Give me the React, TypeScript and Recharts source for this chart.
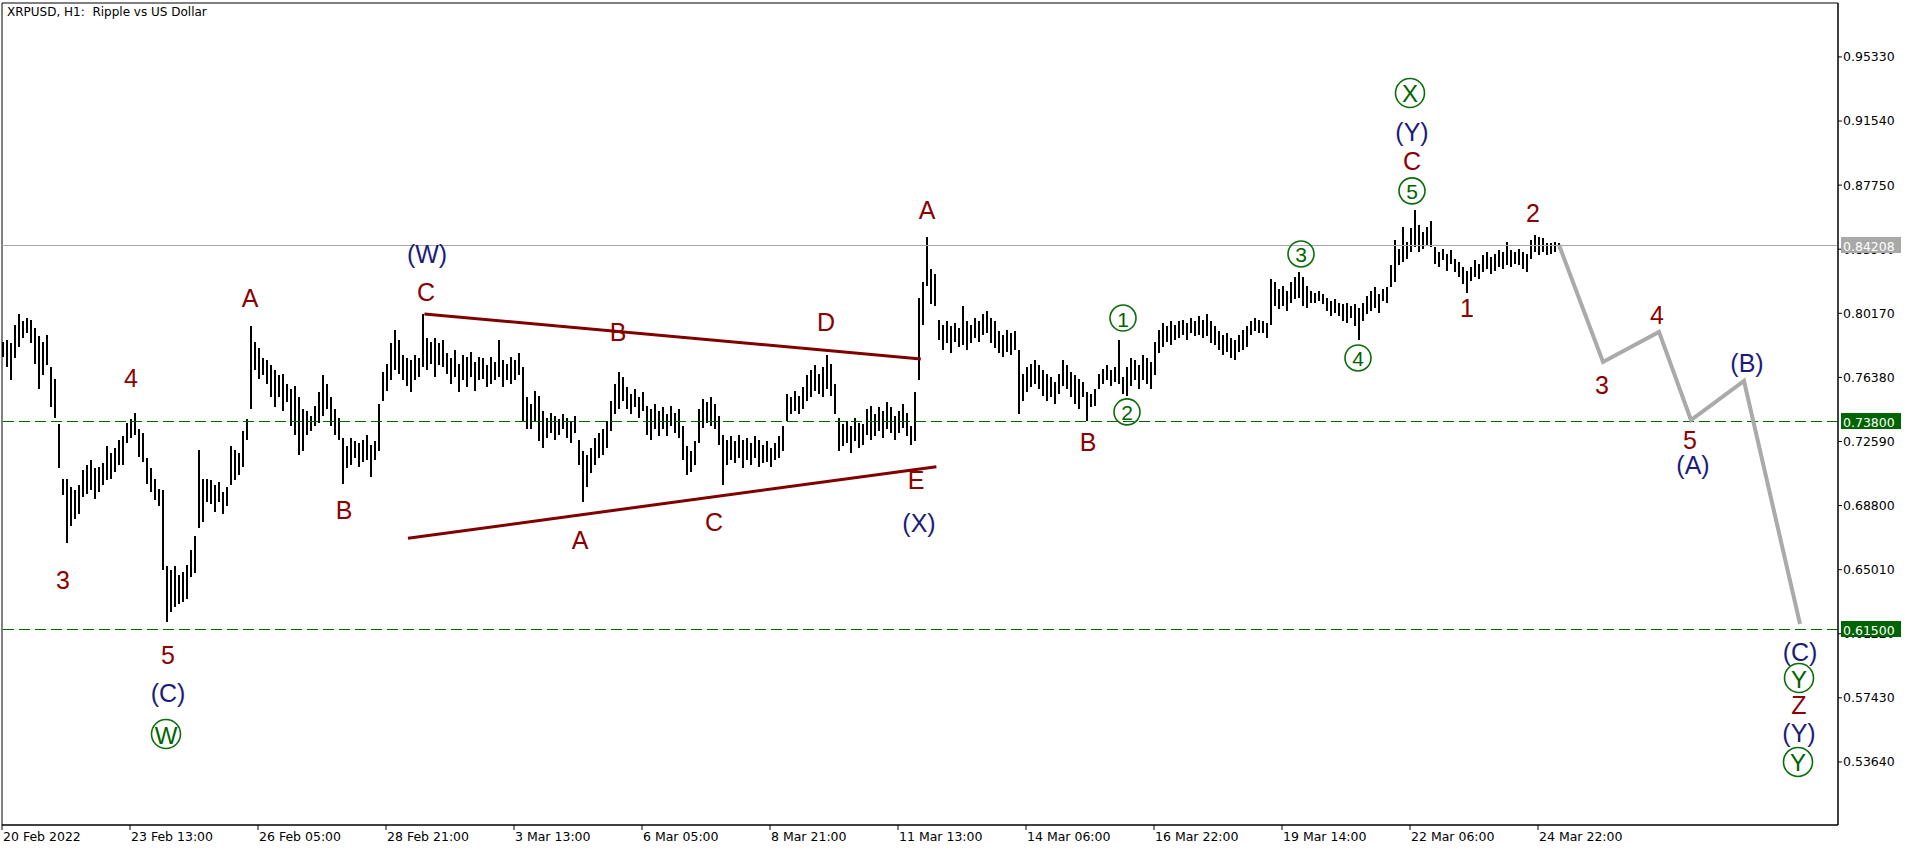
import React from 'react';
import { ComposedChart, Bar, Line, Scatter, XAxis, YAxis, ReferenceLine, ReferenceArea } from 'recharts';

// hourly bars sampled every 2 hours, starting 20 Feb 2022 21:00
const highs = [
  0.785, 0.786, 0.784, 0.795, 0.801, 0.797, 0.799, 0.798, 0.793, 0.788,
  0.785, 0.789, 0.770, 0.763, 0.736, 0.704, 0.704, 0.699, 0.697, 0.700,
  0.709, 0.712, 0.715, 0.710, 0.711, 0.713, 0.723, 0.719, 0.722, 0.727,
  0.729, 0.737, 0.739, 0.743, 0.733, 0.731, 0.716, 0.710, 0.704, 0.698,
  0.697, 0.652, 0.650, 0.652, 0.647, 0.649, 0.653, 0.662, 0.670, 0.721,
  0.704, 0.704, 0.703, 0.700, 0.702, 0.696, 0.699, 0.723, 0.721, 0.719,
  0.732, 0.739, 0.794, 0.785, 0.781, 0.775, 0.774, 0.771, 0.768, 0.765,
  0.766, 0.760, 0.757, 0.759, 0.752, 0.745, 0.744, 0.741, 0.747, 0.755,
  0.765, 0.760, 0.752, 0.745, 0.740, 0.728, 0.723, 0.728, 0.726, 0.725,
  0.727, 0.730, 0.724, 0.726, 0.748, 0.767, 0.772, 0.784, 0.792, 0.786,
  0.777, 0.775, 0.774, 0.777, 0.775, 0.801, 0.787, 0.785, 0.787, 0.784,
  0.786, 0.778, 0.775, 0.780, 0.772, 0.777, 0.776, 0.779, 0.773, 0.776,
  0.775, 0.771, 0.776, 0.773, 0.786, 0.774, 0.772, 0.776, 0.774, 0.778,
  0.770, 0.752, 0.748, 0.756, 0.753, 0.744, 0.740, 0.743, 0.741, 0.739,
  0.742, 0.740, 0.738, 0.741, 0.727, 0.720, 0.718, 0.722, 0.728, 0.731,
  0.733, 0.738, 0.750, 0.760, 0.767, 0.764, 0.758, 0.754, 0.757, 0.752,
  0.755, 0.747, 0.745, 0.748, 0.744, 0.746, 0.742, 0.747, 0.743, 0.745,
  0.735, 0.723, 0.720, 0.726, 0.745, 0.751, 0.749, 0.752, 0.748, 0.741,
  0.730, 0.727, 0.729, 0.726, 0.730, 0.727, 0.728, 0.725, 0.729, 0.727,
  0.724, 0.726, 0.722, 0.725, 0.729, 0.735, 0.754, 0.752, 0.756, 0.753,
  0.758, 0.765, 0.768, 0.771, 0.766, 0.770, 0.777, 0.772, 0.760, 0.740,
  0.736, 0.738, 0.735, 0.740, 0.737, 0.736, 0.745, 0.747, 0.742, 0.746,
  0.744, 0.749, 0.746, 0.741, 0.744, 0.748, 0.743, 0.735, 0.755, 0.811,
  0.820, 0.847, 0.828, 0.825, 0.798, 0.795, 0.797, 0.794, 0.796, 0.793,
  0.806, 0.797, 0.795, 0.799, 0.797, 0.801, 0.803, 0.799, 0.797, 0.791,
  0.789, 0.792, 0.790, 0.791, 0.780, 0.766, 0.770, 0.772, 0.774, 0.771,
  0.768, 0.766, 0.764, 0.761, 0.766, 0.774, 0.771, 0.767, 0.765, 0.763,
  0.761, 0.755, 0.754, 0.757, 0.766, 0.769, 0.771, 0.768, 0.770, 0.786,
  0.764, 0.770, 0.775, 0.774, 0.771, 0.777, 0.775, 0.773, 0.785, 0.792,
  0.796, 0.794, 0.797, 0.795, 0.797, 0.798, 0.796, 0.799, 0.797, 0.800,
  0.798, 0.801, 0.797, 0.794, 0.791, 0.789, 0.790, 0.787, 0.786, 0.789,
  0.792, 0.794, 0.797, 0.799, 0.798, 0.797, 0.796, 0.822, 0.820, 0.816,
  0.818, 0.815, 0.820, 0.823, 0.826, 0.823, 0.818, 0.815, 0.814, 0.815,
  0.813, 0.811, 0.809, 0.810, 0.808, 0.807, 0.808, 0.806, 0.807, 0.805,
  0.808, 0.812, 0.815, 0.817, 0.813, 0.816, 0.817, 0.830, 0.845, 0.840,
  0.853, 0.844, 0.852, 0.863, 0.854, 0.850, 0.853, 0.856, 0.841, 0.838,
  0.840, 0.837, 0.839, 0.834, 0.832, 0.829, 0.827, 0.829, 0.833, 0.831,
  0.836, 0.838, 0.835, 0.837, 0.839, 0.838, 0.844, 0.839, 0.838, 0.840,
  0.838, 0.837, 0.845, 0.848, 0.847, 0.846, 0.843, 0.843, 0.844, 0.843,
];

const lows = [
  0.776, 0.770, 0.762, 0.775, 0.782, 0.787, 0.790, 0.784, 0.772, 0.757,
  0.765, 0.771, 0.746, 0.740, 0.710, 0.694, 0.666, 0.676, 0.680, 0.683,
  0.693, 0.695, 0.697, 0.692, 0.696, 0.700, 0.703, 0.704, 0.708, 0.712,
  0.712, 0.725, 0.728, 0.730, 0.717, 0.714, 0.701, 0.696, 0.691, 0.688,
  0.650, 0.619, 0.625, 0.628, 0.630, 0.631, 0.633, 0.646, 0.648, 0.675,
  0.678, 0.690, 0.689, 0.684, 0.690, 0.683, 0.688, 0.700, 0.703, 0.706,
  0.711, 0.727, 0.745, 0.768, 0.763, 0.765, 0.760, 0.752, 0.746, 0.752,
  0.744, 0.749, 0.735, 0.730, 0.718, 0.720, 0.730, 0.732, 0.735, 0.737,
  0.741, 0.745, 0.735, 0.730, 0.727, 0.701, 0.710, 0.712, 0.716, 0.711,
  0.714, 0.715, 0.705, 0.715, 0.720, 0.750, 0.756, 0.762, 0.768, 0.766,
  0.762, 0.759, 0.755, 0.762, 0.764, 0.770, 0.768, 0.772, 0.764, 0.771,
  0.770, 0.766, 0.760, 0.764, 0.755, 0.762, 0.758, 0.764, 0.756, 0.762,
  0.763, 0.758, 0.760, 0.762, 0.764, 0.758, 0.762, 0.760, 0.762, 0.765,
  0.738, 0.733, 0.733, 0.738, 0.726, 0.722, 0.728, 0.731, 0.727, 0.730,
  0.733, 0.728, 0.725, 0.731, 0.712, 0.690, 0.699, 0.707, 0.712, 0.716,
  0.718, 0.722, 0.732, 0.742, 0.745, 0.750, 0.745, 0.742, 0.746, 0.740,
  0.744, 0.730, 0.727, 0.733, 0.729, 0.733, 0.729, 0.735, 0.731, 0.728,
  0.715, 0.706, 0.708, 0.712, 0.725, 0.734, 0.737, 0.735, 0.733, 0.724,
  0.700, 0.712, 0.715, 0.713, 0.716, 0.710, 0.715, 0.712, 0.716, 0.711,
  0.713, 0.714, 0.711, 0.715, 0.716, 0.720, 0.738, 0.742, 0.744, 0.742,
  0.745, 0.750, 0.752, 0.756, 0.754, 0.752, 0.757, 0.753, 0.742, 0.720,
  0.723, 0.725, 0.719, 0.726, 0.722, 0.724, 0.730, 0.727, 0.729, 0.732,
  0.728, 0.733, 0.731, 0.727, 0.731, 0.734, 0.729, 0.724, 0.726, 0.762,
  0.795, 0.818, 0.807, 0.806, 0.786, 0.780, 0.784, 0.778, 0.785, 0.782,
  0.783, 0.780, 0.784, 0.787, 0.785, 0.789, 0.790, 0.784, 0.781, 0.778,
  0.776, 0.779, 0.777, 0.780, 0.742, 0.750, 0.755, 0.758, 0.760, 0.757,
  0.753, 0.750, 0.752, 0.748, 0.754, 0.759, 0.757, 0.752, 0.748, 0.745,
  0.752, 0.738, 0.746, 0.747, 0.757, 0.760, 0.762, 0.759, 0.761, 0.760,
  0.754, 0.753, 0.759, 0.762, 0.757, 0.762, 0.760, 0.757, 0.765, 0.778,
  0.782, 0.785, 0.783, 0.786, 0.787, 0.789, 0.786, 0.790, 0.788, 0.789,
  0.787, 0.788, 0.784, 0.783, 0.780, 0.777, 0.779, 0.775, 0.774, 0.779,
  0.780, 0.782, 0.789, 0.791, 0.790, 0.790, 0.787, 0.795, 0.806, 0.804,
  0.806, 0.803, 0.808, 0.810, 0.811, 0.806, 0.805, 0.808, 0.808, 0.809,
  0.807, 0.803, 0.800, 0.802, 0.800, 0.797, 0.796, 0.799, 0.794, 0.786,
  0.797, 0.801, 0.803, 0.805, 0.802, 0.809, 0.808, 0.817, 0.820, 0.830,
  0.832, 0.834, 0.838, 0.841, 0.838, 0.840, 0.842, 0.841, 0.831, 0.829,
  0.833, 0.827, 0.831, 0.826, 0.823, 0.819, 0.814, 0.821, 0.823, 0.822,
  0.826, 0.828, 0.825, 0.827, 0.829, 0.828, 0.830, 0.829, 0.831, 0.830,
  0.828, 0.826, 0.834, 0.838, 0.836, 0.838, 0.836, 0.837, 0.838, 0.840,
];

const timeTicks = [0, 64, 128, 192, 256, 320, 384, 448, 512, 576, 640, 704, 768];
const timeLabels = [
  '20 Feb 2022', '23 Feb 13:00', '26 Feb 05:00', '28 Feb 21:00', '3 Mar 13:00', '6 Mar 05:00',
  '8 Mar 21:00', '11 Mar 13:00', '14 Mar 06:00', '16 Mar 22:00', '19 Mar 14:00', '22 Mar 06:00', '24 Mar 22:00',
];
const priceTicks = [0.9533, 0.9154, 0.8775, 0.8396, 0.8017, 0.7638, 0.7259, 0.688, 0.6501, 0.6122, 0.5743, 0.5364];

const lastPrice = 0.84208;
const targetLevels = [0.738, 0.615];
const tagPrices = [lastPrice, ...targetLevels];
const tagColors = ['#a8a8a8', '#006400', '#006400'];

// forecast path (gray)
const projTimes = [778.5, 800.5, 828.5, 844.5, 871, 899];
const projPrices = [0.8421, 0.7729, 0.7907, 0.7386, 0.7617, 0.618];

// contracting triangle borders
const triUpper = [{ x: 211.2, y: 0.8013 }, { x: 459.4, y: 0.7747 }];
const triLower = [{ x: 203, y: 0.6687 }, { x: 467.2, y: 0.711 }];

// wave labels: r = red, b = blue, g = circled green
const labelTimes = [30.5, 64.5, 83, 83, 82, 124, 171, 212.5, 212, 308, 412, 289, 356, 457, 458.5, 462.5,
  543, 560.5, 562.5, 649.5, 678, 704, 705, 705, 705, 732.5, 765.5,
  800, 827.5, 844, 845.5, 872.5, 899, 898.5, 898.5, 898.5, 898];
const labelPrices = [0.644, 0.7635, 0.5996, 0.5772, 0.5529, 0.8108, 0.6854, 0.8368, 0.8143, 0.7907, 0.7966, 0.6677, 0.6783, 0.7031, 0.6777, 0.8628,
  0.7256, 0.7989, 0.7434, 0.8368, 0.7753, 0.932, 0.909, 0.8918, 0.8741, 0.8049, 0.861,
  0.7593, 0.8007, 0.7268, 0.712, 0.7723, 0.6014, 0.586, 0.5701, 0.5535, 0.5364];
const labelTexts = ['3', '4', '5', '(C)', 'W', 'A', 'B', '(W)', 'C', 'B', 'D', 'A', 'C', 'E', '(X)', 'A',
  'B', '1', '2', '3', '4', 'X', '(Y)', 'C', '5', '1', '2',
  '3', '4', '5', '(A)', '(B)', '(C)', 'Y', 'Z', '(Y)', 'Y'];
const labelKinds = ['r', 'r', 'r', 'b', 'g', 'r', 'r', 'b', 'r', 'r', 'r', 'r', 'r', 'r', 'b', 'r',
  'r', 'g', 'g', 'g', 'g', 'g', 'b', 'r', 'g', 'r', 'r',
  'r', 'r', 'r', 'b', 'b', 'b', 'g', 'r', 'b', 'g'];

const Y_MIN = 0.4991;
const Y_MAX = 0.9852;

const barData = highs.map((h, k) => ({ t: 2 * k + 0.5, range: [lows[k], h] }));
const projData = projTimes.map((t, i) => ({ t, p: projPrices[i] }));
const labelData = labelTimes.map((t, i) => ({ t, p: labelPrices[i], text: labelTexts[i], kind: labelKinds[i] }));

const AXIS_FONT = '"DejaVu Sans", sans-serif';
const LABEL_FONT = '"Liberation Sans", Arial, sans-serif';

const PriceBar = (props: any) => {
  const { x, y, width, height } = props;
  if (x == null || !height) return null;
  const cx = Math.round(x + width / 2);
  return <rect x={cx - 1} y={y} width={2} height={Math.max(height, 1)} fill="#000" shapeRendering="crispEdges" />;
};

const WaveLabel = (props: any) => {
  const { cx, cy, payload } = props;
  if (cx == null || cy == null) return null;
  if (payload.kind === 'g') {
    const digit = /\d/.test(payload.text);
    const r = digit ? 13 : 14.5;
    return (
      <g>
        <circle cx={cx} cy={cy} r={r} fill="none" stroke="#0a6e0a" strokeWidth={1.6} />
        <text x={cx} y={cy + 1} textAnchor="middle" dominantBaseline="central" fontFamily={LABEL_FONT}
          fontSize={digit ? 21 : 24} fill="#006400">{payload.text}</text>
      </g>
    );
  }
  return (
    <text x={cx} y={cy} textAnchor="middle" dominantBaseline="central" fontFamily={LABEL_FONT}
      fontSize={25} fill={payload.kind === 'r' ? '#8b0000' : '#1c1c7c'}>{payload.text}</text>
  );
};

// price tags drawn by a thin axis stacked right of the price axis
const PriceTag = (props: any) => {
  const { x, y, payload } = props;
  const idx = tagPrices.indexOf(payload.value);
  if (idx < 0) return null;
  const left = x - 74;
  return (
    <g>
      <rect x={left} y={y - 8} width={60} height={16} fill={tagColors[idx]} />
      <text x={left + 2} y={y + 1} dominantBaseline="central" fill="#fff" fontSize={12.5} fontFamily={AXIS_FONT}>
        {payload.value.toFixed(5)}
      </text>
    </g>
  );
};

const TimeTick = (props: any) => {
  const { x, y, payload } = props;
  const idx = timeTicks.indexOf(payload.value);
  return (
    <text x={x + 1} y={y} dy="0.71em" textAnchor="start" fill="#000" fontSize={12.5} fontFamily={AXIS_FONT}>
      {idx >= 0 ? timeLabels[idx] : ''}
    </text>
  );
};

export default function App() {
  return (
    <div style={{ position: 'absolute', left: 0, top: 0, width: 1916, height: 852, background: '#fff' }}>
      <div style={{ position: 'absolute', left: 7, top: 5, fontFamily: AXIS_FONT, fontSize: 12, color: '#000', whiteSpace: 'pre' }}>
        {'XRPUSD, H1:  Ripple vs US Dollar'}
      </div>
      <ComposedChart width={1916} height={852} data={barData} margin={{ top: 3, right: 0, left: 2, bottom: 0 }}>
        <XAxis dataKey="t" type="number" domain={[0, 918]} ticks={timeTicks} allowDataOverflow
          height={27} tickSize={5} tickLine={{ stroke: '#000' }} axisLine={{ stroke: '#000' }} tick={<TimeTick />} interval={0} />
        <YAxis orientation="right" type="number" domain={[Y_MIN, Y_MAX]} ticks={priceTicks} allowDataOverflow
          width={77} tickSize={4} tickMargin={1} interval={0}
          tickFormatter={(v: number) => v.toFixed(5)}
          tick={{ fill: '#000', fontSize: 12.5, fontFamily: AXIS_FONT }}
          tickLine={{ stroke: '#000' }} axisLine={{ stroke: '#000' }} />
        <YAxis yAxisId="tags" orientation="right" type="number" domain={[Y_MIN, Y_MAX]} ticks={tagPrices} allowDataOverflow
          width={1} tickSize={0} tickMargin={0} interval={0} tickLine={false} axisLine={false} tick={<PriceTag />} />
        <ReferenceArea x1={0} x2={918} y1={Y_MIN} y2={Y_MAX} fill="none" stroke="#000" strokeWidth={1} />
        <ReferenceLine y={lastPrice} stroke="#a8a8a8" strokeWidth={1} shapeRendering="crispEdges" />
        {targetLevels.map((lvl) => (
          <ReferenceLine key={lvl} y={lvl} stroke="#006400" strokeWidth={1} strokeDasharray="11 5"
            shapeRendering="crispEdges" />
        ))}
        <ReferenceLine segment={triUpper} stroke="#800000" strokeWidth={3} />
        <ReferenceLine segment={triLower} stroke="#800000" strokeWidth={3} />
        <Bar dataKey="range" fill="#000" barSize={2} shape={<PriceBar />} isAnimationActive={false} />
        <Line data={projData} dataKey="p" type="linear" stroke="#aaaaaa" strokeWidth={4} dot={false}
          activeDot={false} isAnimationActive={false} />
        <Scatter data={labelData} dataKey="p" shape={<WaveLabel />} isAnimationActive={false} />
      </ComposedChart>
    </div>
  );
}
